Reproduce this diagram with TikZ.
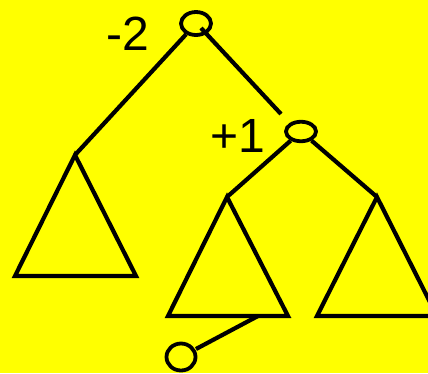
\documentclass[tikz,border=0pt]{standalone}
\usepackage{fontspec}
\setmainfont{Liberation Sans}
\usetikzlibrary{shapes.geometric}
\definecolor{bg}{RGB}{255,255,0}
\tikzset{
  edge/.style={line width=4.2pt},
  tri/.style={line width=4.2pt, line join=miter},
  knot/.style={draw, ellipse, line width=3.8pt, minimum width=30pt, minimum height=23pt, inner sep=0pt},
  lbl/.style={font=\fontsize{48}{48}\selectfont, inner sep=0pt}
}
\begin{document}
\begin{tikzpicture}[x=1pt,y=-1pt]
\fill[bg] (0,0) rectangle (428,373);
\useasboundingbox (0,0) rectangle (428,373);
\begin{scope}
\clip (0,0) rectangle (428,373);
% nodes
\node[knot] (top) at (196,23.5) {};
\node[knot, minimum width=30pt, minimum height=19.5pt] (right) at (301,131.5) {};
\node[knot, minimum width=29pt, minimum height=27pt] (bot) at (181,357) {};
\node[lbl] (lm) at (128,34) {-2};
\node[lbl] (lp) at (238,136) {+1};
% triangle apexes and corners
\coordinate (la) at (75,155);
\coordinate (lbl1) at (15,276);
\coordinate (lbr) at (136,276);
\coordinate (ma) at (227,197);
\coordinate (mbl) at (168,316);
\coordinate (mbr) at (288,316);
\coordinate (ra) at (377,197);
\coordinate (rbl) at (317,316);
\coordinate (rbr) at (437,316);
\coordinate (attach) at (258,316);
\coordinate (tse) at (201,28);
\coordinate (tre) at (281,114);
\coordinate (bne) at (196,349);
% triangles
\draw[tri] (la) -- (lbl1) -- (lbr) -- cycle;
\draw[tri] (ma) -- (mbl) -- (mbr) -- cycle;
\draw[tri] (ra) -- (rbl) -- (rbr) -- cycle;
% edges
\draw[edge] (top) -- (la);
\draw[edge] (tse) -- (tre);
\draw[edge] (right) -- (ma);
\draw[edge] (right) -- (ra);
\draw[edge] (bne) -- (attach);
\end{scope}
\end{tikzpicture}
\end{document}
